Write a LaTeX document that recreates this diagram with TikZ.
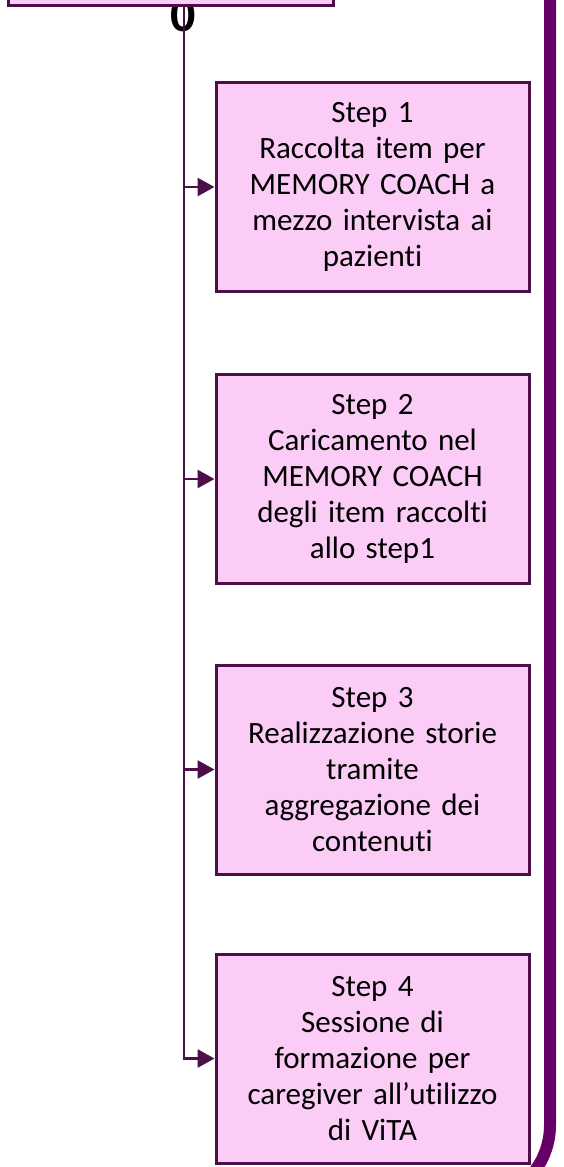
\documentclass[tikz,border=0pt]{standalone}
\usepackage{fontspec}
\setmainfont{Carlito}[Ligatures=NoCommon]
\usetikzlibrary{arrows.meta}

\definecolor{boxfill}{RGB}{251,204,245}
\definecolor{boxline}{RGB}{78,14,72}
\definecolor{barpurple}{RGB}{102,0,102}

\begin{document}
\begin{tikzpicture}[x=1pt, y=-1pt, line width=2.5pt,
  stepnode/.style={draw=boxline, line width=3pt, fill=boxfill, minimum width=313pt,
    minimum height=209pt, text width=300pt, align=center, inner sep=0pt,
    font=\fontsize{31}{36}\selectfont},
  linkarrow/.style={draw=boxline, line width=2.8pt, -{Triangle[length=17pt,width=18pt]}}]

\useasboundingbox (0,0) rectangle (564,1167);
\clip (0,0) rectangle (564,1167);

%big purple frame on the right
\draw[barpurple, line width=12pt, rounded corners=77pt] (550,-20) -- (550,1202) -- (300,1202);

%the zero peeking out under the top box
\node[font=\bfseries\fontsize{50}{50}\selectfont, anchor=base, inner sep=0pt] (zero) at (183,31) {0};

%top box, almost all of it above the page
\node[stepnode, minimum width=325pt, minimum height=100pt] (top) at (170.5,-45) {};

%one box per step
\newcommand{\stepmarker}[3]{
        \node[stepnode] (#1) at (372.5,#2) {#3};
}

%%step 1
\stepmarker{s1}{187}{Step 1\\Raccolta item per\\MEMORY COACH a\\mezzo intervista ai\\pazienti}
%%step 2
\stepmarker{s2}{479}{Step 2\\Caricamento nel\\MEMORY COACH\\degli item raccolti\\allo step1}
%%step 3
\stepmarker{s3}{769.5}{Step 3\\Realizzazione storie\\tramite\\aggregazione dei\\contenuti}
%%step 4
\stepmarker{s4}{1058.5}{Step 4\\Sessione di\\formazione per\\caregiver all’utilizzo\\di ViTA}

%trunk line and arrows
\coordinate (trunk) at (184,5);
\draw[linkarrow] (trunk) |- (s4.west);
\foreach \s in {s1,s2,s3}
        \draw[linkarrow] (trunk |- \s.west) -- (\s.west);

\end{tikzpicture}
\end{document}
